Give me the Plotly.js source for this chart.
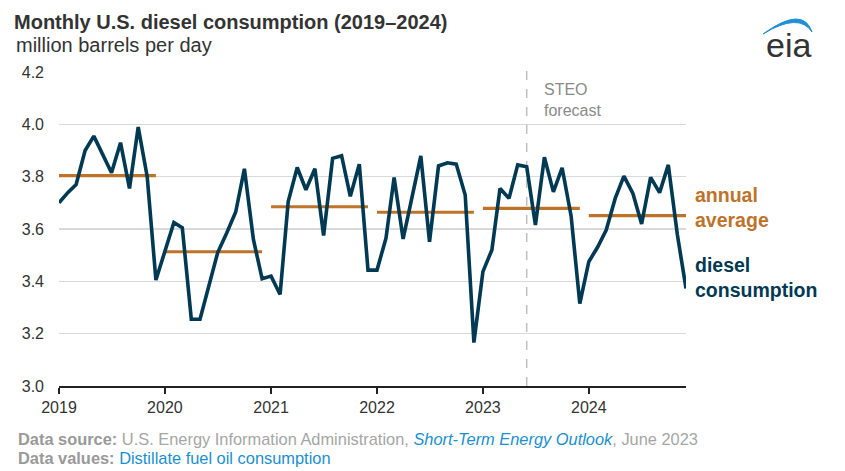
<!DOCTYPE html>
<html>
<head>
<meta charset="utf-8">
<script src="https://cdn.plot.ly/plotly-3.0.1.min.js"></script>
<style>
  html, body { margin: 0; padding: 0; background: #fff; }
  #chart { width: 845px; height: 471px; }
</style>
</head>
<body>
<div id="chart"></div>
<script>
// ---- Data (million barrels per day), monthly Jan..Dec ----
const years = [2019, 2020, 2021, 2022, 2023, 2024];
const diesel2019 = [3.70, 3.74, 3.77, 3.90, 3.955, 3.885, 3.815, 3.93, 3.755, 3.99, 3.80, 3.405];
const diesel2020 = [3.515, 3.625, 3.605, 3.255, 3.255, 3.38, 3.51, 3.585, 3.665, 3.83, 3.56, 3.41];
const diesel2021 = [3.42, 3.35, 3.705, 3.835, 3.75, 3.83, 3.575, 3.87, 3.88, 3.725, 3.848, 3.443];
const diesel2022 = [3.443, 3.565, 3.797, 3.562, 3.72, 3.879, 3.551, 3.841, 3.853, 3.848, 3.73, 3.166];
const diesel2023 = [3.437, 3.52, 3.755, 3.717, 3.845, 3.838, 3.615, 3.874, 3.742, 3.834, 3.65, 3.315];
const diesel2024 = [3.475, 3.532, 3.596, 3.717, 3.802, 3.736, 3.619, 3.797, 3.739, 3.845, 3.58, 3.373];
const annualAverage = [3.804, 3.513, 3.685, 3.664, 3.679, 3.651];
const yTicks = [3.0, 3.2, 3.4, 3.6, 3.8, 4.0, 4.2];
const yTickLabels = ['3.0', '3.2', '3.4', '3.6', '3.8', '4.0', '4.2'];
const xTickLabels = ['2019', '2020', '2021', '2022', '2023', '2024'];
const forecastStart = '2023-06-01';

const byYear = [diesel2019, diesel2020, diesel2021, diesel2022, diesel2023, diesel2024];
const mm = ['01','02','03','04','05','06','07','08','09','10','11','12'];

const lineX = [], lineY = [];
years.forEach((yr, i) => {
  byYear[i].forEach((v, m) => { lineX.push(yr + '-' + mm[m] + '-01'); lineY.push(v); });
});

const avgX = [], avgY = [];
years.forEach((yr, i) => {
  avgX.push(yr + '-01-01', yr + '-12-01', null);
  avgY.push(annualAverage[i], annualAverage[i], null);
});

// ---- Layout geometry (pixels) ----
const W = 845, H = 471;
const L = 59, R = 686, T = 72, B = 386;
const px2x = p => (p - L) / (R - L);
const px2y = p => (B - p) / (B - T);

const NAVY = '#003953';
const ORANGE = '#BD732A';
const FONT = 'Liberation Sans, Arial, sans-serif';

const traces = [
  {
    x: avgX, y: avgY, type: 'scatter', mode: 'lines',
    line: { color: ORANGE, width: 3.2 }, connectgaps: false,
    hoverinfo: 'skip', showlegend: false
  },
  {
    x: lineX, y: lineY, type: 'scatter', mode: 'lines',
    line: { color: NAVY, width: 3.6, shape: 'linear' },
    showlegend: false
  }
];

const layout = {
  width: W, height: H,
  margin: { l: L, r: W - R, t: T, b: H - B, pad: 0 },
  paper_bgcolor: '#fff', plot_bgcolor: '#fff',
  font: { family: FONT, color: '#333' },
  showlegend: false,
  title: {
    text: '<b>Monthly U.S. diesel consumption (2019–2024)</b>',
    font: { family: FONT, size: 20, color: '#333' },
    x: 14 / W, xanchor: 'left', xref: 'container',
    y: 1 - 22 / H, yanchor: 'middle', yref: 'container'
  },
  xaxis: {
    type: 'date',
    range: ['2019-01-01', '2024-12-01'],
    tickvals: years.map(y => y + '-01-01'),
    ticktext: xTickLabels,
    showgrid: false, zeroline: false,
    showline: true, linecolor: '#222', linewidth: 1.5,
    ticks: 'outside', ticklen: 6, tickwidth: 1.5, tickcolor: '#222',
    tickfont: { family: FONT, size: 16, color: '#333' },
    fixedrange: true
  },
  yaxis: {
    range: [3.0, 4.2],
    tickvals: yTicks, ticktext: yTickLabels,
    showgrid: true, gridcolor: '#d9d9d9', gridwidth: 1.5,
    zeroline: false, showline: false, ticks: '',
    ticklabelstandoff: 14,
    tickfont: { family: FONT, size: 16, color: '#333' },
    fixedrange: true
  },
  shapes: [
    {
      type: 'line', xref: 'x', yref: 'paper',
      x0: forecastStart, x1: forecastStart, y0: 0, y1: px2y(68),
      line: { color: '#bfbfbf', width: 1.5, dash: 'dash' }, layer: 'below'
    },
    {
      type: 'path', xref: 'paper', yref: 'paper',
      path: 'M ' + px2x(763) + ' ' + px2y(34) +
            ' Q ' + px2x(803) + ' ' + px2y(5) + ' ' + px2x(812) + ' ' + px2y(32) +
            ' Q ' + px2x(799) + ' ' + px2y(12) + ' ' + px2x(763) + ' ' + px2y(34) + ' Z',
      fillcolor: '#1E90D6', line: { color: '#1E90D6', width: 1 }
    }
  ],
  annotations: [
    {
      text: 'million barrels per day', xref: 'paper', yref: 'paper',
      x: px2x(14), y: px2y(45), xanchor: 'left', yanchor: 'middle',
      showarrow: false, font: { family: FONT, size: 20, color: '#333' }
    },
    {
      text: 'STEO<br>forecast', xref: 'x', yref: 'paper',
      x: forecastStart, xshift: 15, y: px2y(100), xanchor: 'left', yanchor: 'middle',
      align: 'left', showarrow: false, font: { family: FONT, size: 16, color: '#8a8a8a' }
    },
    {
      text: '<b>annual<br>average</b>', xref: 'paper', yref: 'paper',
      x: px2x(693), y: px2y(207.5), xanchor: 'left', yanchor: 'middle',
      align: 'left', showarrow: false, font: { family: FONT, size: 19.5, color: ORANGE }
    },
    {
      text: '<b>diesel<br>consumption</b>', xref: 'paper', yref: 'paper',
      x: px2x(693), y: px2y(277.5), xanchor: 'left', yanchor: 'middle',
      align: 'left', showarrow: false, font: { family: FONT, size: 19.5, color: NAVY }
    },
    {
      text: 'eia', xref: 'paper', yref: 'paper',
      x: px2x(788.5), y: px2y(45), xanchor: 'center', yanchor: 'middle',
      showarrow: false, font: { family: FONT, size: 34, color: '#333' }
    },
    {
      text: '<b>Data source:</b> <span style="color:#a6a6a6">U.S. Energy Information Administration, </span>' +
            '<span style="color:#1b8fd0"><i>Short-Term Energy Outlook</i></span>' +
            '<span style="color:#a6a6a6">, June 2023</span>',
      xref: 'paper', yref: 'paper', x: px2x(16), y: px2y(439),
      xanchor: 'left', yanchor: 'middle', showarrow: false,
      font: { family: FONT, size: 16.4, color: '#999' }
    },
    {
      text: '<b>Data values:</b> <span style="color:#1b8fd0">Distillate fuel oil consumption</span>',
      xref: 'paper', yref: 'paper', x: px2x(16), y: px2y(458),
      xanchor: 'left', yanchor: 'middle', showarrow: false,
      font: { family: FONT, size: 16.4, color: '#999' }
    }
  ]
};

Plotly.newPlot('chart', traces, layout, { displayModeBar: false, staticPlot: true });
</script>
</body>
</html>
